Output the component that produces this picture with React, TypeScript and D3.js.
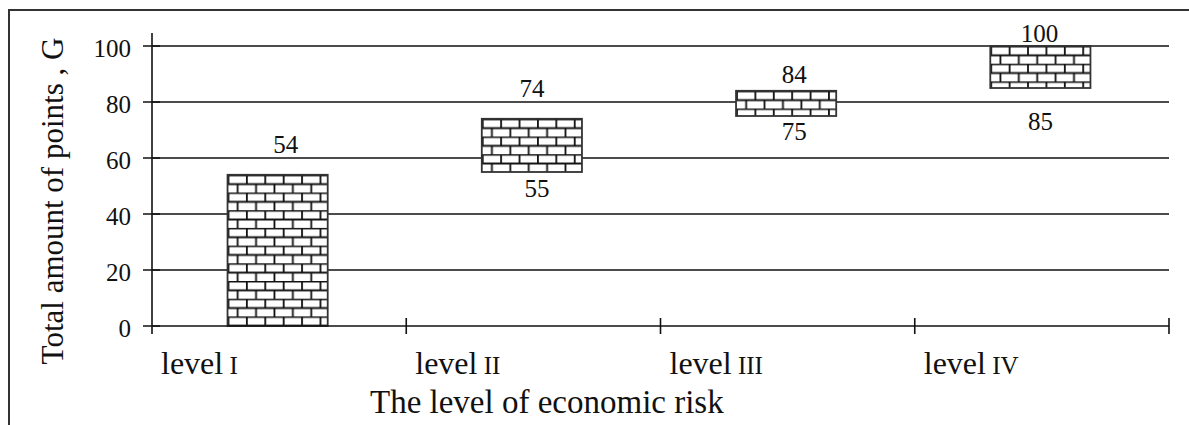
import React, { useRef, useEffect } from 'react'
import * as d3 from 'd3'

// economic risk levels and score ranges (low .. high)
const levels = ['I', 'II', 'III', 'IV']
const lowValues = [0, 55, 75, 85]
const highValues = [54, 74, 84, 100]
const yTicks = [0, 20, 40, 60, 80, 100]

// label nudges (dx from bar center, dy of baseline from bar edge)
const topNudge = [[8, -22], [0, -22], [8, -8], [-1, -4]]
const bottomNudge = [null, [5, 25], [8, 24], [0, 42]]

const W = 1189
const H = 425
const serif = '"Liberation Serif", "Times New Roman", Times, serif'

export default function App() {
  const svgRef = useRef<SVGSVGElement>(null)

  useEffect(() => {
    if (!svgRef.current) return
    const svg = d3.select(svgRef.current)
    svg.selectAll('*').remove()

    const left = 152
    const right = 1169
    const x = d3.scaleBand().domain(levels).range([left, right]).padding(0)
    const y = d3.scaleLinear().domain([0, 100]).range([326, 46])
    const barW = x.bandwidth() * 0.394
    const barX = (l: string) => x(l)! + x.bandwidth() / 2 - 1.5 - barW / 2

    // outer frame (cropped on right and bottom)
    svg.append('path')
      .attr('d', `M9,${H + 2} L9,10 L${W + 2},10`)
      .attr('fill', 'none').attr('stroke', '#333').attr('stroke-width', 2)

    // brick patterns, one per bar so they line up with the bar top
    const defs = svg.append('defs')
    const rowH = 8.85
    const brickW = 18.4
    levels.forEach((l, i) => {
      const p = defs.append('pattern')
        .attr('id', `brick-${i}`)
        .attr('patternUnits', 'userSpaceOnUse')
        .attr('x', barX(l)).attr('y', y(highValues[i]))
        .attr('width', brickW).attr('height', rowH * 2)
      p.append('rect').attr('width', brickW).attr('height', rowH * 2).attr('fill', '#fff')
      p.append('path')
        .attr('d', `M0,0.5 H${brickW} M0,${rowH + 0.5} H${brickW}` +
          ` M${brickW * 0.05},0 V${rowH} M${brickW * 0.55},${rowH} V${rowH * 2}`)
        .attr('stroke', '#111').attr('stroke-width', 1.8).attr('fill', 'none')
    })

    // grid lines
    svg.append('g')
      .selectAll('line')
      .data(yTicks.filter(t => t > 0))
      .join('line')
      .attr('x1', left).attr('x2', right)
      .attr('y1', d => y(d)).attr('y2', d => y(d))
      .attr('stroke', '#111').attr('stroke-width', 1.5)

    // bars
    svg.append('g')
      .selectAll('rect')
      .data(levels)
      .join('rect')
      .attr('x', d => barX(d))
      .attr('y', (_, i) => y(highValues[i]))
      .attr('width', barW)
      .attr('height', (_, i) => y(lowValues[i]) - y(highValues[i]))
      .attr('fill', (_, i) => `url(#brick-${i})`)
      .attr('stroke', '#333').attr('stroke-width', 1.8)

    // value labels
    const lab = svg.append('g').attr('text-anchor', 'middle')
    levels.forEach((l, i) => {
      const cx = barX(l) + barW / 2
      const t = topNudge[i]
      lab.append('text')
        .attr('x', cx + t[0]).attr('y', y(highValues[i]) + t[1])
        .style('font-family', serif).style('font-size', '25px').attr('fill', '#111')
        .text(String(highValues[i]))
      const b = bottomNudge[i]
      if (b) {
        lab.append('text')
          .attr('x', cx + b[0]).attr('y', y(lowValues[i]) + b[1])
          .style('font-family', serif).style('font-size', '25px').attr('fill', '#111')
          .text(String(lowValues[i]))
      }
    })

    // y axis
    const yAxis = svg.append('g')
      .attr('transform', `translate(${left},0)`)
      .call(d3.axisLeft(y).tickValues(yTicks).tickSize(0).tickPadding(21))
    yAxis.select('.domain').remove()
    yAxis.selectAll('text')
      .style('font-family', serif).style('font-size', '25px').attr('fill', '#111')
      .attr('dy', '0.4em')
    svg.append('line')
      .attr('x1', left).attr('x2', left).attr('y1', 33).attr('y2', 334)
      .attr('stroke', '#111').attr('stroke-width', 1.6)
    svg.append('g')
      .selectAll('line')
      .data(yTicks)
      .join('line')
      .attr('x1', left - 9).attr('x2', left + 8)
      .attr('y1', d => y(d)).attr('y2', d => y(d))
      .attr('stroke', '#111').attr('stroke-width', 1.5)

    // x axis
    svg.append('line')
      .attr('x1', left).attr('x2', right).attr('y1', y(0)).attr('y2', y(0))
      .attr('stroke', '#111').attr('stroke-width', 1.6)
    const xTicks = levels.map(l => x(l)!).concat([right])
    svg.append('g')
      .selectAll('line')
      .data(xTicks.slice(1))
      .join('line')
      .attr('x1', d => d).attr('x2', d => d)
      .attr('y1', y(0) - 8).attr('y2', y(0) + 8)
      .attr('stroke', '#111').attr('stroke-width', 1.6)

    // category labels
    svg.append('g')
      .selectAll('text')
      .data(levels)
      .join('text')
      .attr('x', d => x(d)! + 9)
      .attr('y', 374)
      .style('font-family', serif).style('font-size', '32px').attr('fill', '#111')
      .each(function (d) {
        const t = d3.select(this)
        t.append('tspan').text('level')
        t.append('tspan').style('font-size', '25px').text(' ' + d)
      })

    // axis titles
    svg.append('text')
      .attr('x', 370).attr('y', 413)
      .style('font-family', serif).style('font-size', '33px').attr('fill', '#111')
      .text('The level of economic risk')

    svg.append('text')
      .attr('transform', 'translate(63,201) rotate(-90)')
      .attr('text-anchor', 'middle')
      .style('font-family', serif).style('font-size', '31px').attr('fill', '#111')
      .text('Total amount of points , G')
  }, [])

  return (
    <svg
      ref={svgRef}
      width={W}
      height={H}
      style={{ position: 'absolute', left: 0, top: 0, background: '#fff' }}
    />
  )
}
